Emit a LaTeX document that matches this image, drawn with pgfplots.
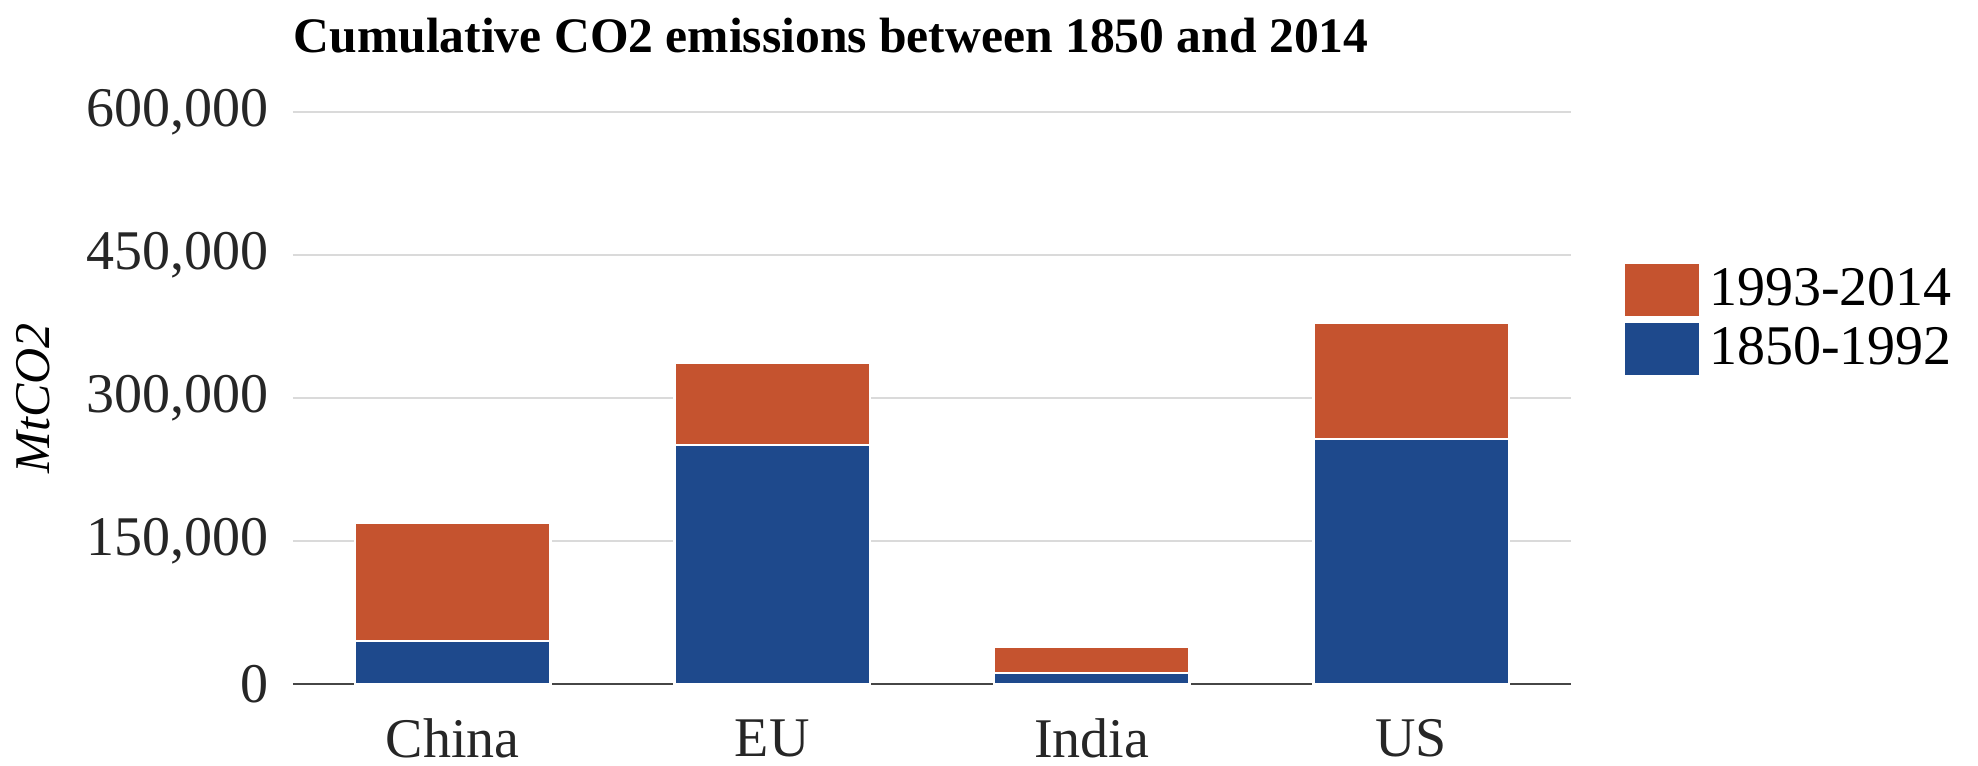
\documentclass[border=0pt]{standalone}
\usepackage{fontspec}
\setmainfont{Liberation Serif}
\usepackage{pgfplots}
\pgfplotsset{compat=1.18}
\definecolor{orangebar}{RGB}{197,83,47}
\definecolor{bluebar}{RGB}{30,73,140}
\definecolor{gridgray}{RGB}{218,218,218}
\definecolor{axisgray}{RGB}{70,70,70}
\begin{document}
\begin{tikzpicture}
\useasboundingbox (-73.25pt,-20.25pt) rectangle (421.25pt,171pt);
\begin{axis}[
    scale only axis,
    width=319.5pt, height=143pt,
    ybar stacked,
    bar width=48.9pt,
    xmin=-0.5, xmax=3.5,
    ymin=0, ymax=600000,
    xtick=data,
    xticklabels={China,EU,India,US},
    ytick={0,150000,300000,450000,600000},
    yticklabels={0,{150,000},{300,000},{450,000},{600,000}},
    scaled y ticks=false,
    major tick length=0pt,
    axis line style={draw=none},
    ymajorgrids,
    grid style={gridgray, line width=0.6pt},
    tick label style={font=\fontsize{14}{16}\selectfont, text=black!85},
    yticklabel style={inner sep=0pt, anchor=east, xshift=-6pt},
    xticklabel style={inner sep=0pt, anchor=center, yshift=-13.5pt},
    ylabel={\textit{MtCO2}},
    ylabel style={at={(axis description cs:-0.203,0.5)}, anchor=center, font=\fontsize{12.5}{14}\selectfont},
    title={Cumulative CO2 emissions between 1850 and 2014},
    title style={at={(axis description cs:0,1)}, anchor=west, yshift=13pt, inner sep=0pt, font=\bfseries\fontsize{12.4}{14}\selectfont},
    reverse legend,
    legend style={at={(axis description cs:1,0.742)}, anchor=north west, xshift=12.75pt,
        draw=none, fill=none, inner sep=0pt, font=\fontsize{14}{16}\selectfont,
        row sep=0pt, cells={anchor=west}},
    legend image code/.code={\fill[#1] (0pt,-6.75pt) rectangle (19pt,6.75pt);},
]
\addplot[fill=bluebar, draw=white, line width=0.6pt] coordinates {(0,45000) (1,251000) (2,11500) (3,257000)};
\addlegendentry{1850-1992}
\addplot[fill=orangebar, draw=white, line width=0.6pt] coordinates {(0,124000) (1,86000) (2,27500) (3,122000)};
\addlegendentry{1993-2014}
\draw[axisgray, line width=0.7pt] (rel axis cs:0,0) -- (rel axis cs:1,0);
\end{axis}
\end{tikzpicture}
\end{document}
